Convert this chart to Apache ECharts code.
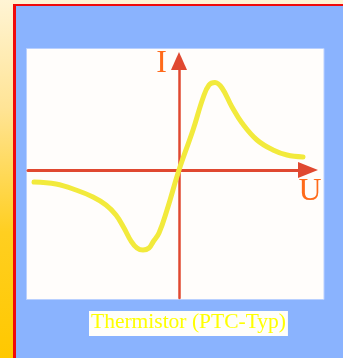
<!DOCTYPE html>
<html>
<head>
<meta charset="utf-8">
<script src="https://cdn.jsdelivr.net/npm/echarts@6/dist/echarts.min.js"></script>
<style>
  html, body { margin: 0; padding: 0; }
  #chart { width: 343px; height: 358px; }
</style>
</head>
<body>
<div id="chart"></div>
<script>
// Current-voltage characteristic of a PTC thermistor (arbitrary units)
const voltage = [-14.5, -12.3, -10.3, -8.6, -7.3, -6.3, -5.5, -4.8, -4.2, -3.6, -3.0, -2.6, -2.0, -1.2, 0,
                 1.4, 2.4, 3.0, 3.6, 4.3, 5.3, 6.3, 7.8, 9.4, 10.8, 12.4];
const current = [-1.2, -1.4, -2.0, -2.7, -3.5, -4.5, -5.8, -7.1, -7.8, -8.0, -7.8, -7.2, -6.3, -4.0, 0,
                 4.0, 7.2, 8.5, 8.75, 8.2, 6.3, 4.7, 3.0, 2.0, 1.5, 1.3];
const axisNames = ['U', 'I'];
const caption = 'Thermistor (PTC-Typ)';

const points = voltage.map((u, k) => [u, current[k]]);

const axisRed = '#e04830';
const nameOrange = '#ff6a1a';

const chart = echarts.init(document.getElementById('chart'), null, { renderer: 'canvas' });

chart.setOption({
  animation: false,
  backgroundColor: 'transparent',
  graphic: [
    // page background strip
    {
      type: 'rect', z: -10, silent: true,
      shape: { x: 0, y: 0, width: 343, height: 358 },
      style: {
        fill: new echarts.graphic.LinearGradient(0, 0, 0, 1, [
          { offset: 0, color: '#fff4d4' },
          { offset: 0.3, color: '#ffe496' },
          { offset: 0.65, color: '#ffcf20' },
          { offset: 1, color: '#ffc800' }
        ])
      }
    },
    // red frame edge
    { type: 'rect', z: -9, silent: true, shape: { x: 13, y: 4, width: 340, height: 360 }, style: { fill: '#f00a0a' } },
    // blue panel
    { type: 'rect', z: -8, silent: true, shape: { x: 16, y: 6, width: 340, height: 360 }, style: { fill: '#8ab3fe' } },
    // white drawing area
    {
      type: 'rect', z: -7, silent: true,
      shape: { x: 26.5, y: 48.5, width: 297.5, height: 251 },
      style: { fill: '#fffdfb', stroke: '#b9d0ff', lineWidth: 1 }
    }
  ],
  title: {
    text: caption,
    left: 89, top: 312.5,
    padding: [0, 2, 3, 2],
    backgroundColor: '#fffefa',
    textStyle: {
      fontFamily: 'Liberation Serif',
      fontWeight: 'normal',
      fontSize: 21.5,
      lineHeight: 19,
      color: '#ffff00'
    }
  },
  grid: { left: 28, top: 61, width: 280, height: 237, containLabel: false },
  xAxis: {
    type: 'value', min: -15.1, max: 12.9,
    name: axisNames[0], nameLocation: 'end', nameGap: 2,
    nameTextStyle: {
      fontFamily: 'Liberation Serif', fontSize: 32, lineHeight: 32, color: nameOrange,
      align: 'center', verticalAlign: 'top', padding: [6, 0, 0, 0]
    },
    axisLine: {
      onZero: true, symbol: ['none', 'triangle'], symbolSize: [16, 20],
      lineStyle: { color: axisRed, width: 3 }
    },
    axisTick: { show: false }, axisLabel: { show: false }, splitLine: { show: false }
  },
  yAxis: {
    type: 'value', min: -12.8, max: 10.9,
    name: axisNames[1], nameLocation: 'end', nameGap: -3,
    nameTextStyle: {
      fontFamily: 'Liberation Serif', fontSize: 32, lineHeight: 32, color: nameOrange,
      align: 'right', verticalAlign: 'middle', padding: [0, 12, 0, 0]
    },
    axisLine: {
      onZero: true, symbol: ['none', 'triangle'], symbolSize: [16, 18],
      lineStyle: { color: axisRed, width: 2.5 }
    },
    axisTick: { show: false }, axisLabel: { show: false }, splitLine: { show: false }
  },
  series: [{
    type: 'line',
    data: points,
    smooth: 0.4,
    showSymbol: false,
    symbol: 'none',
    lineStyle: { color: '#f2ea3c', width: 5, cap: 'round', join: 'round' },
    z: 5
  }]
});
</script>
</body>
</html>
